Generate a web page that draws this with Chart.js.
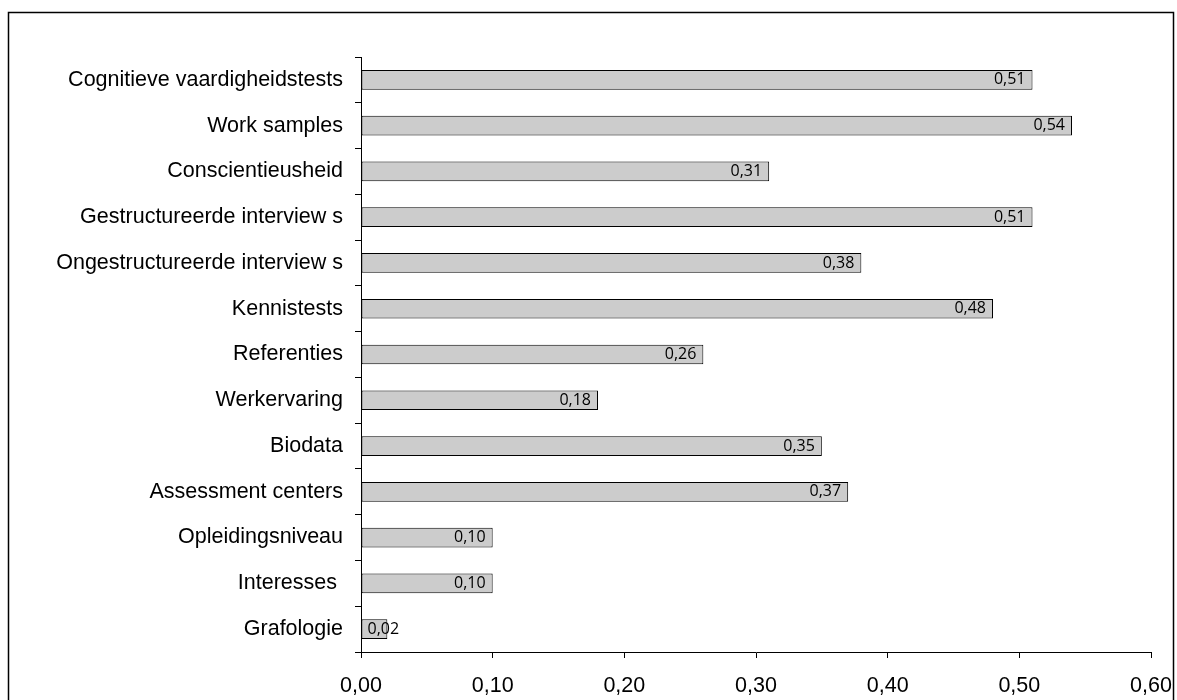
<!DOCTYPE html>
<html>
<head>
<meta charset="utf-8">
<script src="https://cdn.jsdelivr.net/npm/chart.js@4/dist/chart.umd.min.js"></script>
<style>
html,body{margin:0;padding:0;background:#fff;}
#wrap{width:1177px;height:700px;}
</style>
</head>
<body>
<div id="wrap"><canvas id="c" width="1177" height="700"></canvas></div>
<script>
const categories = [
  "Cognitieve vaardigheidstests",
  "Work samples",
  "Conscientieusheid",
  "Gestructureerde interview s",
  "Ongestructureerde interview s",
  "Kennistests",
  "Referenties",
  "Werkervaring",
  "Biodata",
  "Assessment centers",
  "Opleidingsniveau",
  "Interesses ",
  "Grafologie"
];
const validity = [0.51, 0.54, 0.31, 0.51, 0.38, 0.48, 0.26, 0.18, 0.35, 0.37, 0.10, 0.10, 0.02];
const xTicks = [0, 0.1, 0.2, 0.3, 0.4, 0.5, 0.6];

const fmt = v => v.toFixed(2).replace('.', ',');

const frame = {
  id: 'frame',
  beforeDraw(chart) {
    const ctx = chart.ctx;
    ctx.save();
    ctx.fillStyle = '#fff';
    ctx.fillRect(0, 0, chart.width, chart.height);
    ctx.strokeStyle = '#000';
    ctx.lineWidth = 1.5;
    ctx.strokeRect(8.5, 12.5, 1165, 720);
    ctx.restore();
  }
};

const valueLabels = {
  id: 'valueLabels',
  afterDatasetsDraw(chart) {
    const ctx = chart.ctx;
    const meta = chart.getDatasetMeta(0);
    ctx.save();
    ctx.font = '16px "Open Sans"';
    ctx.fillStyle = '#000';
    ctx.textAlign = 'right';
    ctx.textBaseline = 'middle';
    meta.data.forEach((bar, i) => {
      const txt = fmt(validity[i]);
      const w = ctx.measureText(txt).width;
      const x = Math.max(bar.x - 7, bar.base + 6 + w);
      ctx.fillText(txt, x, bar.y);
    });
    ctx.restore();
  }
};

const labelFont = { family: '"Liberation Sans", Arial, sans-serif', size: 21.5 };

new Chart(document.getElementById('c'), {
  type: 'bar',
  data: {
    labels: categories,
    datasets: [{
      data: validity,
      backgroundColor: '#cccccc',
      borderColor: '#000',
      borderWidth: 1,
      borderSkipped: false,
      barPercentage: 0.43,
      categoryPercentage: 1
    }]
  },
  options: {
    indexAxis: 'y',
    responsive: false,
    animation: false,
    layout: { padding: { left: 0, top: 57, right: 26, bottom: 1 } },
    plugins: { legend: { display: false }, tooltip: { enabled: false } },
    scales: {
      x: {
        min: 0,
        max: 0.6,
        afterBuildTicks(axis) { axis.ticks = xTicks.map(v => ({ value: v })); },
        afterFit(axis) { axis.paddingLeft = 0; axis.paddingRight = 0; axis.paddingTop = 0; axis.paddingBottom = 0; axis.height = 47; },
        ticks: {
          callback: v => fmt(v),
          color: '#000',
          padding: 15,
          maxRotation: 0,
          font: labelFont
        },
        grid: { drawOnChartArea: false, tickLength: 6, color: '#000' },
        border: { color: '#000', width: 1 }
      },
      y: {
        afterFit(axis) { axis.width = 361; axis.paddingTop = 0; axis.paddingBottom = 0; },
        ticks: {
          color: '#000',
          padding: 12,
          font: labelFont
        },
        grid: { drawOnChartArea: false, tickLength: 6, color: '#000', offset: true },
        border: { color: '#000', width: 1 }
      }
    }
  },
  plugins: [frame, valueLabels]
});
</script>
</body>
</html>
